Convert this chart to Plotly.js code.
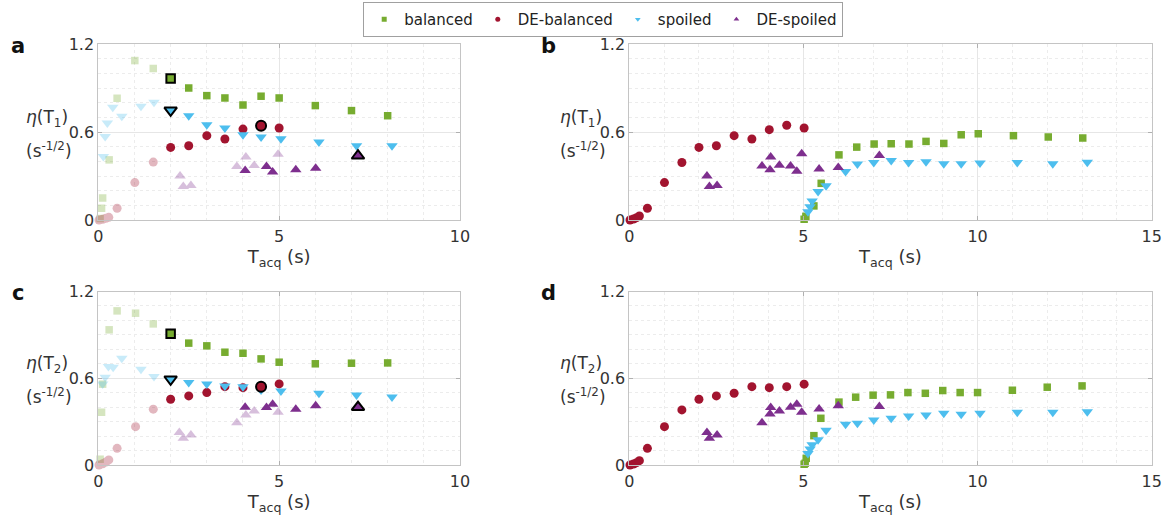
<!DOCTYPE html>
<html>
<head>
<meta charset="utf-8">
<script src="https://cdn.plot.ly/plotly-3.0.1.min.js"></script>
<style>html,body{margin:0;padding:0;background:#fff;}#chart{width:1169px;height:524px;}</style>
</head>
<body>
<div id="chart"></div>
<script>
// ---------- Data ----------
const seriesNames = ["balanced", "DE-balanced", "spoiled", "DE-spoiled"];
const xTicksLeft = [0, 5, 10];
const xTicksRight = [0, 5, 10, 15];
const yTicks = [0, 0.6, 1.2];
const yTickText = ["0", "0.6", "1.2"];

// Panel a
const aBalFadedX = [0.05, 0.09, 0.12, 0.30, 0.52, 1.01, 1.52];
const aBalFadedY = [0.01, 0.08, 0.15, 0.41, 0.83, 1.087, 1.033];
const aBalX = [2.5, 3.0, 3.5, 4.0, 4.5, 5.0, 6.0, 7.0, 8.0];
const aBalY = [0.90, 0.848, 0.832, 0.784, 0.844, 0.832, 0.78, 0.746, 0.711];
const aBalHlX = [2.0], aBalHlY = [0.965];

const aDebFadedX = [0.02, 0.12, 0.21, 0.29, 0.52, 1.01, 1.52];
const aDebFadedY = [0.0, 0.005, 0.012, 0.018, 0.08, 0.255, 0.395];
const aDebX = [2.0, 2.5, 3.0, 3.5, 4.0, 5.0];
const aDebY = [0.495, 0.506, 0.575, 0.552, 0.62, 0.627];
const aDebHlX = [4.5], aDebHlY = [0.643];

const aSpFadedX = [0.14, 0.19, 0.25, 0.40, 0.65, 1.18, 1.54];
const aSpFadedY = [0.433, 0.57, 0.661, 0.768, 0.707, 0.775, 0.802];
const aSpX = [2.5, 3.0, 3.5, 4.0, 4.5, 5.05, 6.1, 7.14, 8.12];
const aSpY = [0.711, 0.65, 0.627, 0.581, 0.566, 0.554, 0.531, 0.506, 0.506];
const aSpHlX = [2.0], aSpHlY = [0.748];

const aDesFadedX = [2.26, 2.35, 2.56, 3.83, 4.08, 4.31, 4.97];
const aDesFadedY = [0.30, 0.228, 0.235, 0.365, 0.429, 0.371, 0.449];
const aDesX = [4.06, 4.65, 4.82, 5.46, 6.01];
const aDesY = [0.337, 0.365, 0.328, 0.342, 0.353];
const aDesHlX = [7.18], aDesHlY = [0.438];

// Panel b
const bBalX = [5.02, 5.07, 5.3, 5.51, 6.02, 6.53, 7.03, 7.52, 8.03, 8.52, 9.03, 9.53, 10.02, 11.03, 12.03, 13.02];
const bBalY = [0.005, 0.025, 0.096, 0.25, 0.444, 0.497, 0.518, 0.52, 0.518, 0.536, 0.522, 0.581, 0.588, 0.575, 0.566, 0.559];
const bDebX = [0.02, 0.12, 0.21, 0.29, 0.52, 1.01, 1.51, 2.0, 2.5, 3.01, 3.52, 4.02, 4.52, 5.02];
const bDebY = [0.0, 0.007, 0.016, 0.027, 0.08, 0.255, 0.392, 0.495, 0.506, 0.575, 0.552, 0.616, 0.646, 0.627];
const bSpX = [5.13, 5.19, 5.25, 5.42, 5.65, 6.21, 6.55, 7.02, 7.52, 8.02, 8.52, 9.03, 9.53, 10.07, 11.14, 12.16, 13.15];
const bSpY = [0.057, 0.091, 0.13, 0.194, 0.233, 0.33, 0.381, 0.392, 0.406, 0.392, 0.397, 0.383, 0.383, 0.388, 0.392, 0.383, 0.394];
const bDesX = [2.23, 2.3, 2.52, 3.81, 4.04, 4.06, 4.31, 4.63, 4.81, 4.95, 5.45, 6.0, 7.18];
const bDesY = [0.30, 0.228, 0.235, 0.369, 0.342, 0.429, 0.374, 0.369, 0.333, 0.451, 0.347, 0.358, 0.44];

// Panel c
const cBalFadedX = [0.05, 0.09, 0.12, 0.30, 0.52, 1.03, 1.52];
const cBalFadedY = [0.04, 0.365, 0.559, 0.935, 1.066, 1.05, 0.976];
const cBalX = [2.5, 3.0, 3.5, 4.0, 4.5, 5.0, 6.0, 7.0, 8.0];
const cBalY = [0.843, 0.824, 0.78, 0.773, 0.734, 0.711, 0.70, 0.704, 0.706];
const cBalHlX = [2.0], cBalHlY = [0.907];

const cDebFadedX = [0.02, 0.12, 0.21, 0.29, 0.52, 1.03, 1.52];
const cDebFadedY = [0.0, 0.008, 0.02, 0.035, 0.115, 0.265, 0.386];
const cDebX = [2.0, 2.5, 3.0, 3.5, 4.0, 5.0];
const cDebY = [0.455, 0.478, 0.501, 0.542, 0.535, 0.561];
const cDebHlX = [4.5], cDebHlY = [0.542];

const cSpFadedX = [0.12, 0.19, 0.28, 0.41, 0.65, 1.18, 1.54];
const cSpFadedY = [0.56, 0.607, 0.681, 0.676, 0.739, 0.662, 0.612];
const cSpX = [2.5, 3.0, 3.5, 4.0, 4.5, 5.05, 6.1, 7.14, 8.12];
const cSpY = [0.57, 0.561, 0.547, 0.542, 0.519, 0.512, 0.496, 0.485, 0.471];
const cSpHlX = [2.0], cSpHlY = [0.593];

const cDesFadedX = [2.24, 2.35, 2.56, 3.83, 4.08, 4.31, 4.97];
const cDesFadedY = [0.224, 0.185, 0.208, 0.293, 0.346, 0.374, 0.365];
const cDesX = [4.06, 4.65, 4.82, 5.46, 6.01];
const cDesY = [0.40, 0.397, 0.42, 0.386, 0.409];
const cDesHlX = [7.18], cDesHlY = [0.40];

// Panel d
const dBalX = [5.02, 5.05, 5.08, 5.3, 5.5, 6.02, 6.5, 7.0, 7.5, 8.0, 8.5, 9.0, 9.5, 10.0, 11.0, 12.0, 13.0];
const dBalY = [0.005, 0.012, 0.046, 0.203, 0.323, 0.435, 0.469, 0.483, 0.485, 0.501, 0.496, 0.515, 0.501, 0.501, 0.517, 0.538, 0.547];
const dDebX = [0.02, 0.12, 0.21, 0.29, 0.52, 1.01, 1.51, 2.0, 2.5, 3.01, 3.52, 4.02, 4.52, 5.02];
const dDebY = [0.0, 0.007, 0.016, 0.03, 0.115, 0.265, 0.381, 0.455, 0.478, 0.496, 0.542, 0.535, 0.542, 0.559];
const dSpX = [5.13, 5.19, 5.25, 5.42, 5.65, 6.21, 6.55, 7.02, 7.52, 8.02, 8.52, 9.03, 9.53, 10.07, 11.14, 12.16, 13.15];
const dSpY = [0.08, 0.11, 0.14, 0.175, 0.24, 0.282, 0.289, 0.312, 0.323, 0.339, 0.346, 0.358, 0.351, 0.358, 0.365, 0.365, 0.369];
const dDesX = [2.23, 2.3, 2.52, 3.81, 4.04, 4.06, 4.31, 4.63, 4.81, 4.95, 5.45, 6.0, 7.18];
const dDesY = [0.224, 0.185, 0.208, 0.293, 0.353, 0.397, 0.374, 0.40, 0.42, 0.365, 0.388, 0.409, 0.404];

// ---------- Styles ----------
const W = 1169, H = 524;
const colors = {bal: "#77AC30", deb: "#A2142F", sp: "#4DBEEE", des: "#7E2F8E"};
const symbols = {bal: "square", deb: "circle", sp: "triangle-down", des: "triangle-up"};
const sizes = {bal: 7.5, deb: 9, sp: 10, des: 10};
const FONT = "DejaVu Sans, Liberation Sans, sans-serif";

function pts(key, x, y, ax, kind) {
  const t = {
    type: "scatter", mode: "markers", x: x, y: y,
    xaxis: "x" + ax, yaxis: "y" + ax, showlegend: false, cliponaxis: false,
    hoverinfo: "skip",
    marker: {symbol: symbols[key], color: colors[key], size: sizes[key], line: {width: 0}}
  };
  if (kind === "faded") t.opacity = 0.3;
  if (kind === "hl") { t.marker.line = {width: 2, color: "#000"}; t.marker.size = sizes[key] + 1; }
  return t;
}

const traces = [
  // panel a
  pts("bal", aBalFadedX, aBalFadedY, "", "faded"),
  pts("deb", aDebFadedX, aDebFadedY, "", "faded"),
  pts("sp", aSpFadedX, aSpFadedY, "", "faded"),
  pts("des", aDesFadedX, aDesFadedY, "", "faded"),
  pts("bal", aBalX, aBalY, ""), pts("deb", aDebX, aDebY, ""),
  pts("sp", aSpX, aSpY, ""), pts("des", aDesX, aDesY, ""),
  pts("bal", aBalHlX, aBalHlY, "", "hl"), pts("deb", aDebHlX, aDebHlY, "", "hl"),
  pts("sp", aSpHlX, aSpHlY, "", "hl"), pts("des", aDesHlX, aDesHlY, "", "hl"),
  // panel b
  pts("bal", bBalX, bBalY, "2"), pts("deb", bDebX, bDebY, "2"),
  pts("sp", bSpX, bSpY, "2"), pts("des", bDesX, bDesY, "2"),
  // panel c
  pts("bal", cBalFadedX, cBalFadedY, "3", "faded"),
  pts("deb", cDebFadedX, cDebFadedY, "3", "faded"),
  pts("sp", cSpFadedX, cSpFadedY, "3", "faded"),
  pts("des", cDesFadedX, cDesFadedY, "3", "faded"),
  pts("bal", cBalX, cBalY, "3"), pts("deb", cDebX, cDebY, "3"),
  pts("sp", cSpX, cSpY, "3"), pts("des", cDesX, cDesY, "3"),
  pts("bal", cBalHlX, cBalHlY, "3", "hl"), pts("deb", cDebHlX, cDebHlY, "3", "hl"),
  pts("sp", cSpHlX, cSpHlY, "3", "hl"), pts("des", cDesHlX, cDesHlY, "3", "hl"),
  // panel d
  pts("bal", dBalX, dBalY, "4"), pts("deb", dDebX, dDebY, "4"),
  pts("sp", dSpX, dSpY, "4"), pts("des", dDesX, dDesY, "4")
];
// legend-only entries
["bal", "deb", "sp", "des"].forEach((k, i) => {
  traces.push({
    type: "scatter", mode: "markers", x: [null], y: [null], name: seriesNames[i],
    showlegend: true, hoverinfo: "skip",
    marker: {symbol: symbols[k], color: colors[k], size: 5}
  });
});

const fx = px => px / W;
const fy = py => 1 - py / H;

function xax(domain, range, ticks, anchor) {
  return {
    domain: domain, range: range, anchor: anchor,
    tickmode: "array", tickvals: ticks, ticktext: ticks.map(String),
    ticks: "inside", ticklen: 4, tickcolor: "#b0b0b0",
    showline: true, linecolor: "#c4c4c4", linewidth: 1, mirror: "ticks",
    showgrid: true, gridcolor: "#e6e6e6", gridwidth: 1, zeroline: false,
    minor: {dtick: 1, showgrid: true, gridcolor: "#ececec", griddash: "dot", ticks: ""},
    tickfont: {family: FONT, size: 16, color: "#333"},
    ticklabelstandoff: 2,
    title: {text: "T<sub>acq</sub> (s)", font: {family: FONT, size: 18, color: "#333"}, standoff: 5},
    fixedrange: true
  };
}
function yax(domain, anchor) {
  return {
    domain: domain, range: [0, 1.2], anchor: anchor,
    tickmode: "array", tickvals: yTicks, ticktext: yTickText,
    ticks: "inside", ticklen: 4, tickcolor: "#b0b0b0",
    showline: true, linecolor: "#c4c4c4", linewidth: 1, mirror: "ticks",
    showgrid: true, gridcolor: "#e6e6e6", gridwidth: 1, zeroline: false,
    minor: {dtick: 0.1, showgrid: true, gridcolor: "#ececec", griddash: "dot", ticks: ""},
    tickfont: {family: FONT, size: 16, color: "#333"},
    fixedrange: true
  };
}

const leftX = [fx(98.3), fx(460)];
const rightX = [fx(629.3), fx(1151.7)];
const topY = [fy(220), fy(44)];
const botY = [fy(465), fy(291.5)];

const ann = [];
function letter(t, px, py) {
  ann.push({text: "<b>" + t + "</b>", xref: "paper", yref: "paper", x: fx(px), y: fy(py),
    xanchor: "center", yanchor: "middle", showarrow: false, font: {family: FONT, size: 21, color: "#111"}});
}
function ylab(sub, px, py) {
  ann.push({text: "<i>η</i>(T<sub>" + sub + "</sub>)", xref: "paper", yref: "paper", x: fx(px), y: fy(py),
    xanchor: "center", yanchor: "middle", showarrow: false, font: {family: FONT, size: 17, color: "#333"}});
  ann.push({text: "(s<sup>-1/2</sup>)", xref: "paper", yref: "paper", x: fx(px + 2), y: fy(py + 32),
    xanchor: "center", yanchor: "middle", showarrow: false, font: {family: FONT, size: 17, color: "#333"}});
}
letter("a", 18, 46); letter("b", 548, 46); letter("c", 18, 293); letter("d", 548, 293);
ylab("1", 47, 118); ylab("1", 581, 118); ylab("2", 47, 364); ylab("2", 581, 364);

const layout = {
  width: W, height: H,
  margin: {l: 0, r: 0, t: 0, b: 0},
  paper_bgcolor: "#fff", plot_bgcolor: "#fff",
  font: {family: FONT, color: "#333"},
  xaxis: xax(leftX, [0, 10], xTicksLeft, "y"),
  yaxis: yax(topY, "x"),
  xaxis2: xax(rightX, [0, 15], xTicksRight, "y2"),
  yaxis2: yax(topY, "x2"),
  xaxis3: xax(leftX, [0, 10], xTicksLeft, "y3"),
  yaxis3: yax(botY, "x3"),
  xaxis4: xax(rightX, [0, 15], xTicksRight, "y4"),
  yaxis4: yax(botY, "x4"),
  showlegend: true,
  legend: {
    orientation: "h", x: 0.516, xanchor: "center", y: fy(2), yanchor: "top",
    bordercolor: "#a0a0a0", borderwidth: 1, bgcolor: "#fff",
    font: {family: FONT, size: 15, color: "#222"}, itemwidth: 30,
    tracegroupgap: 0
  },
  annotations: ann
};

Plotly.newPlot("chart", traces, layout, {displayModeBar: false, staticPlot: true});
</script>
</body>
</html>
